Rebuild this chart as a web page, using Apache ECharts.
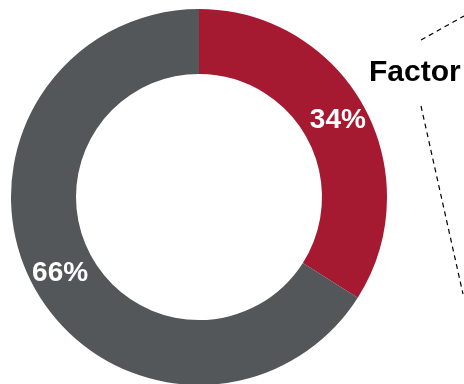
<!DOCTYPE html>
<html>
<head>
<meta charset="utf-8">
<style>
html,body{margin:0;padding:0;background:#fff;}
#chart{width:464px;height:384px;}
</style>
<script src="https://cdn.jsdelivr.net/npm/echarts@6/dist/echarts.min.js"></script>
</head>
<body>
<div id="chart"></div>
<script>
const categories = ['Factor', 'Other'];
const values = [34, 66];
const colors = ['#A51A30', '#54575A'];
const titleText = 'Factor';

const chart = echarts.init(document.getElementById('chart'), null, {renderer: 'canvas'});
chart.setOption({
  animation: false,
  backgroundColor: '#ffffff',
  series: [{
    type: 'pie',
    center: [199, 197],
    radius: [123, 188],
    startAngle: 90,
    clockwise: true,
    silent: true,
    label: {
      show: true,
      position: 'inside',
      formatter: p => p.value + '%',
      color: '#ffffff',
      fontFamily: 'Liberation Sans, Arial, sans-serif',
      fontWeight: 'bold',
      fontSize: 28
    },
    labelLine: {show: false},
    itemStyle: {borderWidth: 0},
    data: categories.map((c, i) => ({name: c, value: values[i], itemStyle: {color: colors[i]}}))
  }],
  graphic: [
    {type: 'text', left: 369, top: 58, style: {text: titleText, fill: '#000', font: 'bold 30px "Liberation Sans", Arial, sans-serif'}},
    {type: 'line', shape: {x1: 421, y1: 40, x2: 464, y2: 16}, style: {stroke: '#000', lineWidth: 1.2, lineDash: [5, 4]}},
    {type: 'line', shape: {x1: 421, y1: 106, x2: 463, y2: 294}, style: {stroke: '#000', lineWidth: 1.2, lineDash: [5, 4]}}
  ]
});
</script>
</body>
</html>
